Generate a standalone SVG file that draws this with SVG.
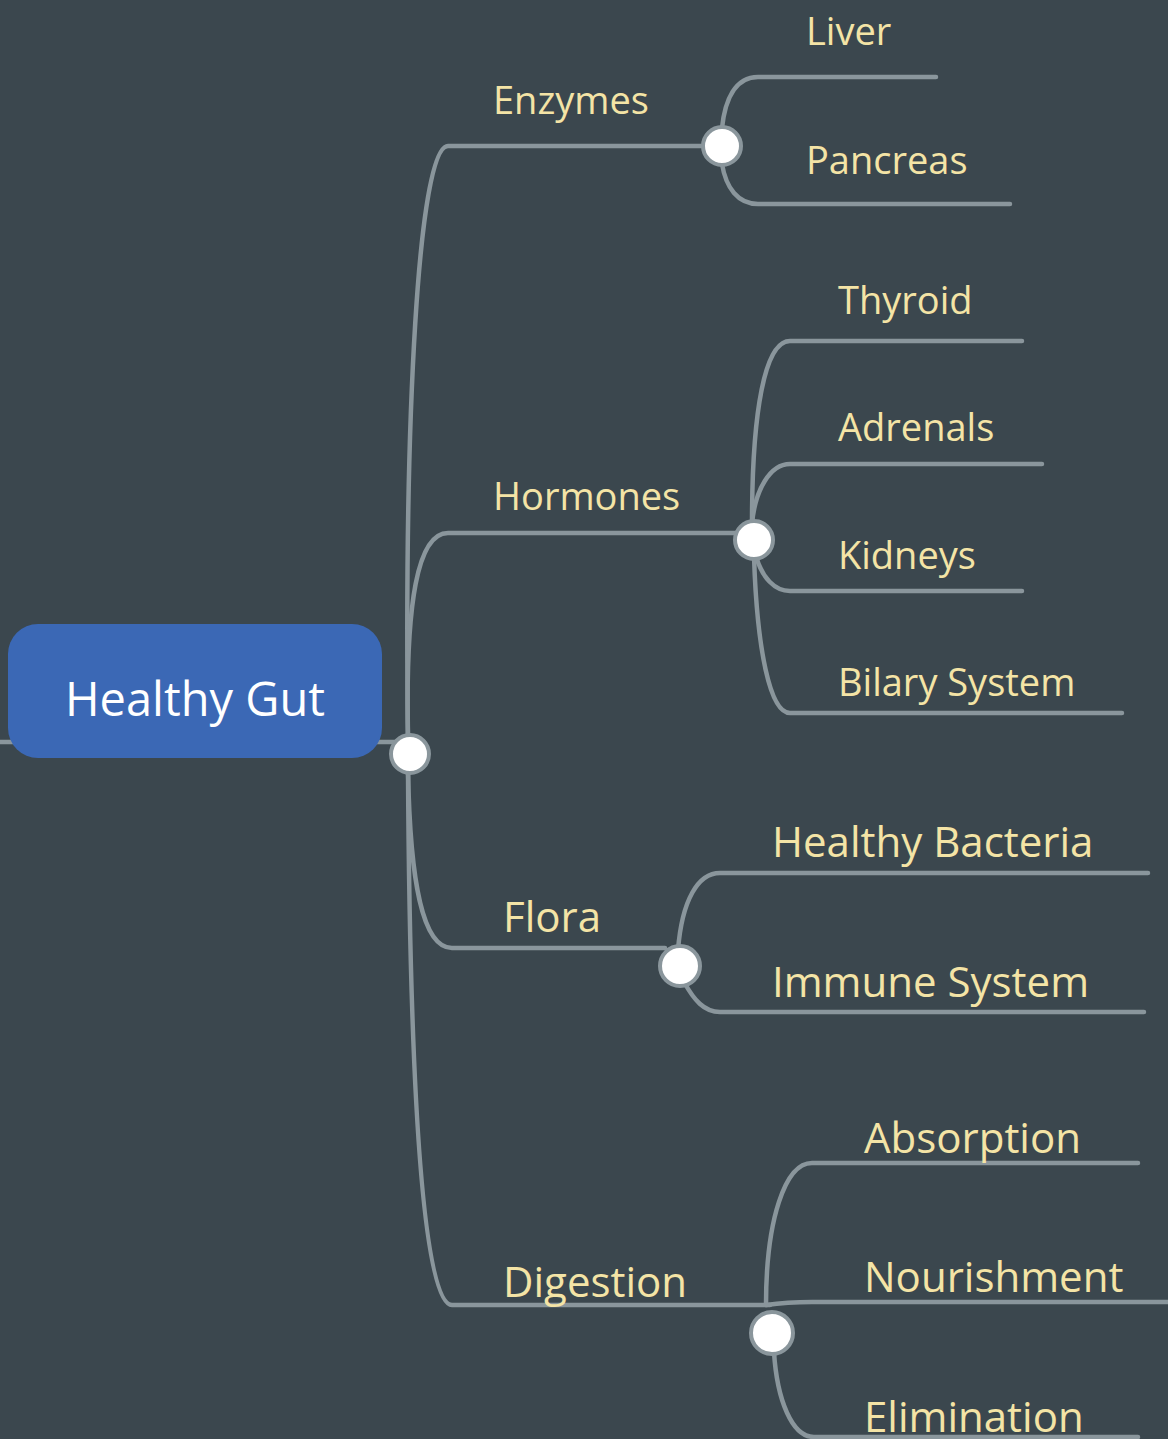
<svg xmlns="http://www.w3.org/2000/svg" width="1168" height="1439" viewBox="0 0 1168 1439">
<style>
.ln{fill:none;stroke:#8a969c;stroke-width:4.5;stroke-linecap:round}
.dot{fill:#ffffff;stroke:#8a969c;stroke-width:4}
.t1{font-family:"Open Sans","Noto Sans",sans-serif;font-size:38px;fill:#f4e4a6}
.t2{font-family:"Open Sans","Noto Sans",sans-serif;font-size:42px;fill:#f4e4a6}
.tc{font-family:"Open Sans","Noto Sans",sans-serif;font-size:47px;fill:#ffffff}
</style>
<rect width="1168" height="1439" fill="#3b474e"/>
<g id="connectors">
<path class="ln" d="M0,742 H20"/>
<path class="ln" d="M370,742 H400"/>
<path class="ln" d="M408,740 C404,420 418,146 448,146 H705"/>
<path class="ln" d="M408,740 C405,600 418,533 448,533 H736"/>
<path class="ln" d="M408,770 C410,880 422,948 452,948 H665"/>
<path class="ln" d="M408,770 C410,1110 424,1305 452,1305 H770"/>
<path class="ln" d="M722,128 C725,100 735,77 758,77 H936"/>
<path class="ln" d="M722,164 C726,188 738,204 758,204 H1010"/>
<path class="ln" d="M752,524 C752,410 765,341 790,341 H1022"/>
<path class="ln" d="M752,524 C755,490 770,464 790,464 H1042"/>
<path class="ln" d="M756,556 C762,578 775,591 790,591 H1022"/>
<path class="ln" d="M754,556 C757,650 770,713 790,713 H1122"/>
<path class="ln" d="M678,950 C682,900 698,873 720,873 H1148"/>
<path class="ln" d="M684,982 C694,1000 704,1012 720,1012 H1144"/>
<path class="ln" d="M766,1305 C766,1220 785,1163 812,1163 H1138"/>
<path class="ln" d="M766,1305 C780,1303 795,1302 812,1302 H1168"/>
<path class="ln" d="M774,1352 C777,1400 792,1437 814,1437 H1138"/>
</g>
<g id="healthy-gut">
<rect x="8" y="624" width="374" height="134" rx="30" fill="#3b68b5"/>
<text class="tc" x="195" y="716" text-anchor="middle">Healthy Gut</text>
</g>
<g id="hub-root"><circle class="dot" cx="410" cy="754" r="19"/></g>
<g id="enzymes"><text class="t1" x="493" y="114">Enzymes</text></g>
<g id="hub-enzymes"><circle class="dot" cx="722" cy="146" r="19"/></g>
<g id="liver"><text class="t1" x="806" y="45">Liver</text></g>
<g id="pancreas"><text class="t1" x="806" y="174">Pancreas</text></g>
<g id="hormones"><text class="t1" x="493" y="510">Hormones</text></g>
<g id="hub-hormones"><circle class="dot" cx="754" cy="540" r="19"/></g>
<g id="thyroid"><text class="t1" x="838" y="314">Thyroid</text></g>
<g id="adrenals"><text class="t1" x="838" y="441">Adrenals</text></g>
<g id="kidneys"><text class="t1" x="838" y="569">Kidneys</text></g>
<g id="bilary-system"><text class="t1" x="838" y="696">Bilary System</text></g>
<g id="flora"><text class="t2" x="503" y="932">Flora</text></g>
<g id="hub-flora"><circle class="dot" cx="680" cy="966" r="20"/></g>
<g id="healthy-bacteria"><text class="t2" x="772" y="857">Healthy Bacteria</text></g>
<g id="immune-system"><text class="t2" x="772" y="997">Immune System</text></g>
<g id="digestion"><text class="t2" x="503" y="1297">Digestion</text></g>
<g id="hub-digestion"><circle class="dot" cx="772" cy="1333" r="21"/></g>
<g id="absorption"><text class="t2" x="864" y="1153">Absorption</text></g>
<g id="nourishment"><text class="t2" x="864" y="1292">Nourishment</text></g>
<g id="elimination"><text class="t2" x="864" y="1432">Elimination</text></g>
</svg>
